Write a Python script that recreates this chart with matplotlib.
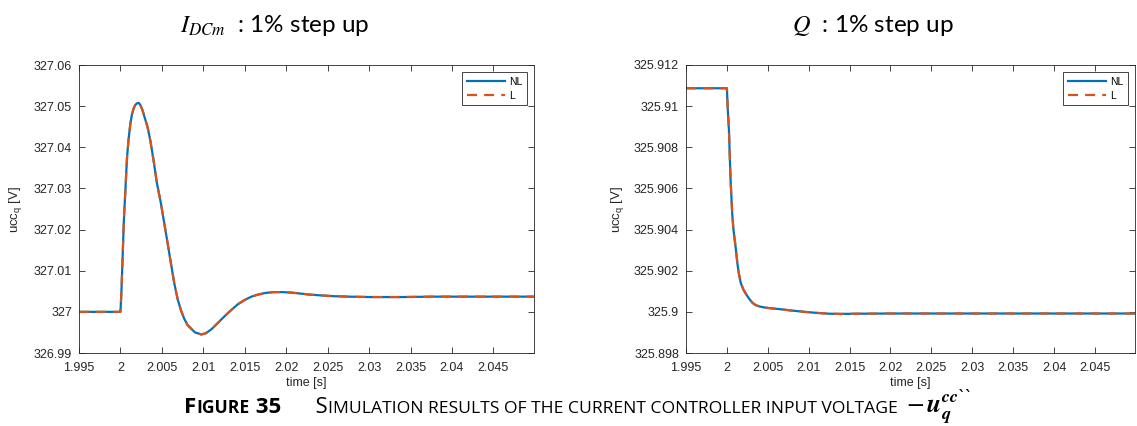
import matplotlib
matplotlib.use("Agg")
import matplotlib.pyplot as plt
import numpy as np
from matplotlib.ticker import FuncFormatter, MultipleLocator

# left panel: I_DCm 1% step up
t_idc = [1.995, 2.0, 2.0001, 2.0002, 2.0003, 2.0004, 2.0005, 2.0006, 2.0007, 2.0008,
         2.0010, 2.0012, 2.0014, 2.0016, 2.0018, 2.0020, 2.0022, 2.0024, 2.00265,
         2.0029, 2.00326, 2.0036, 2.0040, 2.0044, 2.00488, 2.0053, 2.0057, 2.0061,
         2.0065, 2.0069, 2.0073, 2.0077, 2.0081, 2.00854, 2.0090, 2.00976, 2.0103,
         2.0110, 2.0118, 2.0126, 2.0134, 2.0142, 2.0150, 2.0158, 2.0166, 2.0175,
         2.0185, 2.0195, 2.0205, 2.0215, 2.0228, 2.0242, 2.0258, 2.0275, 2.030,
         2.034, 2.038, 2.042, 2.046, 2.05]
v_idc_nl = [327.0, 327.0, 327.0040, 327.0095, 327.0155, 327.0215, 327.0258, 327.0296, 327.0338, 327.0377,
            327.0423, 327.0458, 327.0481, 327.0495, 327.0503, 327.0507, 327.0508, 327.0503, 327.0491,
            327.0474, 327.0450, 327.0417, 327.0368, 327.0313, 327.0264, 327.0214, 327.0166, 327.0117,
            327.0069, 327.0031, 327.0004, 326.9983, 326.9968, 326.9959, 326.9950, 326.9945, 326.9948,
            326.9958, 326.9974, 326.9990, 327.0005, 327.0019, 327.0029, 327.0037, 327.0042, 327.0046,
            327.0048, 327.0048, 327.0047, 327.0045, 327.0042, 327.0040, 327.0038, 327.0037, 327.0036,
            327.0036, 327.0037, 327.0037, 327.0037, 327.0037]
v_idc_l = list(v_idc_nl)

# right panel: Q 1% step up
t_q = [1.995, 2.0, 2.0001, 2.0002, 2.00025, 2.00035, 2.00045, 2.00055, 2.00065, 2.0008,
       2.00106, 2.0013, 2.00146, 2.0017, 2.0020, 2.00228, 2.0027, 2.0031, 2.0035, 2.0040,
       2.0045, 2.0050, 2.0055, 2.0065, 2.0080, 2.0095, 2.0110, 2.0125, 2.014, 2.016,
       2.02, 2.03, 2.04, 2.05]
v_q_nl = [325.91087, 325.91087, 325.9099, 325.9092, 325.90884, 325.9076, 325.90641, 325.9056, 325.90479, 325.9040,
          325.90317, 325.9023, 325.90187, 325.9014, 325.9011, 325.9009, 325.90065, 325.90045, 325.90033, 325.90026,
          325.90022, 325.90019, 325.90017, 325.90013, 325.90006, 325.90000, 325.89995, 325.89991, 325.89990, 325.89991,
          325.89992, 325.89992, 325.89992, 325.89992]
v_q_l = list(v_q_nl)

x_ticks = [1.995, 2.0, 2.005, 2.01, 2.015, 2.02, 2.025, 2.03, 2.035, 2.04, 2.045]
titles = [r"$I_{DCm}$", r"$Q$"]
subtitle = "  : 1% step up"

blue = "#0072BD"
orange = "#D95319"
dark = "#262626"

plt.rcParams["font.family"] = ["Liberation Sans", "DejaVu Sans"]

fig = plt.figure(figsize=(11.37, 4.26), dpi=100)
ax1 = fig.add_axes([79 / 1137, 73 / 426, 455 / 1137, 288 / 426])
ax2 = fig.add_axes([686 / 1137, 73 / 426, 449 / 1137, 288 / 426])


def trim(v, nd):
    s = f"{v:.{nd}f}".rstrip("0").rstrip(".")
    return s


def style(ax, t, nl, l, ylim, ystep, ynd, ylab_x):
    ax.plot(t, nl, color=blue, lw=1.6, label="NL")
    ax.plot(t, l, color=orange, lw=1.6, ls=(0, (4.5, 3.2)), label="L")
    ax.set_xlim(1.995, 2.0499)
    ax.set_ylim(*ylim)
    ax.set_xticks(x_ticks)
    ax.yaxis.set_major_locator(MultipleLocator(ystep))
    ax.xaxis.set_major_formatter(FuncFormatter(lambda v, p: trim(v, 3)))
    ax.yaxis.set_major_formatter(FuncFormatter(lambda v, p: trim(v, ynd)))
    ax.tick_params(direction="in", top=True, right=True, length=4, width=0.6,
                   colors=dark, labelsize=9, pad=5)
    ax.tick_params(axis="x", pad=6.5)
    for s in ax.spines.values():
        s.set_color(dark)
        s.set_linewidth(0.6)
    ax.set_xlabel("time [s]", fontsize=9, color=dark, labelpad=2)
    ax.set_ylabel(r"ucc$_\mathregular{q}$ [V]", fontsize=9.5, color=dark)
    ax.yaxis.set_label_coords(ylab_x, 0.5)
    leg = ax.legend(loc="upper right", fontsize=7.5, handlelength=3.6, fancybox=False,
                    framealpha=1, edgecolor=dark, borderpad=0.45, labelspacing=0.35,
                    handletextpad=0.4, borderaxespad=0.7)
    leg.get_frame().set_linewidth(0.6)


style(ax1, t_idc, v_idc_nl, v_idc_l, (326.99, 327.06), 0.01, 2, -0.12)
style(ax2, t_q, v_q_nl, v_q_l, (325.898, 325.912), 0.002, 3, -0.133)

# panel titles
fig.text(275, 400, titles[0] + subtitle, transform=None, ha="center", va="center",
         fontsize=17.5, family=["Lato", "DejaVu Sans"], math_fontfamily="stix")
fig.text(873, 400, titles[1] + subtitle, transform=None, ha="center", va="center",
         fontsize=17.5, family=["Lato", "DejaVu Sans"], math_fontfamily="stix")

# caption in small caps, built piece by piece
fig.canvas.draw()
renderer = fig.canvas.get_renderer()
pieces = [
    ("F", 16, "bold"), ("IGURE", 12.6, "bold"), (" 35", 16, "bold"),
    ("      S", 16, "normal"), ("IMULATION RESULTS OF THE CURRENT CONTROLLER INPUT VOLTAGE ", 12.6, "normal"),
]
x = 184
base = 13
for txt, size, weight in pieces:
    tt = fig.text(x, base, txt, transform=None, fontsize=size, weight=weight,
                  family=["Open Sans", "DejaVu Sans"], va="baseline", ha="left")
    x += tt.get_window_extent(renderer).width
tt = fig.text(x + 4, base, r"$-\,\mathbfit{u}_{\mathbfit{q}}^{\mathbfit{cc}}$", transform=None,
              fontsize=18.5, va="baseline", ha="left", math_fontfamily="stix")
x2 = x + 4 + tt.get_window_extent(renderer).width
fig.text(x2, base + 12, "``", transform=None, fontsize=11, va="baseline", ha="left",
         family="DejaVu Serif", weight="bold")

fig.savefig("out.png", dpi=100)
